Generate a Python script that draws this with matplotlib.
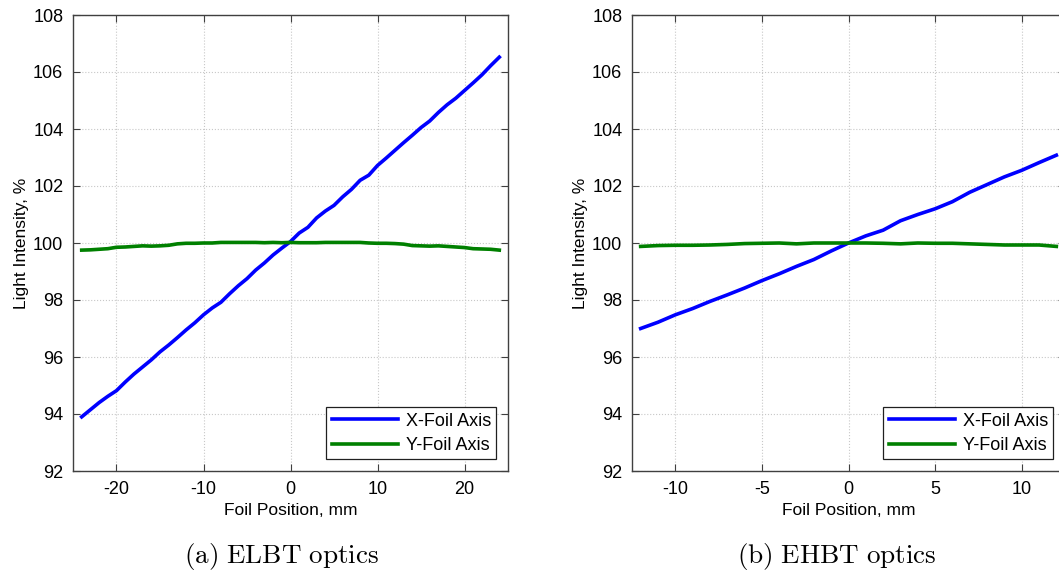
#!/usr/bin/env python3
# -*- coding: utf-8 -*-

import numpy as np
from matplotlib import pyplot as plt

plt.rcParams['font.family'] = ['Liberation Sans', 'DejaVu Sans']
plt.rcParams['mathtext.fontset'] = 'cm'
plt.rcParams['axes.unicode_minus'] = False

# ELBT optics, foil position in mm
elbt_pos = list(range(-24, 25))
elbt_x = [93.90, 94.15, 94.40, 94.62, 94.82, 95.12, 95.40, 95.65, 95.90, 96.18,
          96.42, 96.68, 96.95, 97.20, 97.48, 97.72, 97.92, 98.22, 98.50, 98.75,
          99.05, 99.30, 99.58, 99.82, 100.05, 100.35, 100.55, 100.88, 101.12, 101.32,
          101.62, 101.88, 102.20, 102.38, 102.72, 102.98, 103.25, 103.52, 103.78, 104.05,
          104.28, 104.58, 104.85, 105.08, 105.35, 105.62, 105.90, 106.22, 106.52]
elbt_y = [99.75, 99.76, 99.78, 99.80, 99.85, 99.86, 99.88, 99.90, 99.89, 99.90,
          99.92, 99.97, 99.99, 99.99, 100.00, 100.00, 100.02, 100.02, 100.02, 100.02,
          100.02, 100.01, 100.02, 100.01, 100.02, 100.01, 100.01, 100.01, 100.02, 100.02,
          100.02, 100.02, 100.02, 100.00, 99.99, 99.99, 99.98, 99.96, 99.91, 99.90,
          99.89, 99.90, 99.88, 99.86, 99.84, 99.80, 99.79, 99.78, 99.75]

# EHBT optics
ehbt_pos = list(range(-12, 13))
ehbt_x = [97.00, 97.22, 97.48, 97.70, 97.95, 98.18, 98.42, 98.68, 98.92, 99.18,
          99.42, 99.72, 100.00, 100.25, 100.45, 100.78, 101.00, 101.20, 101.45, 101.78,
          102.05, 102.32, 102.55, 102.82, 103.08]
ehbt_y = [99.88, 99.91, 99.92, 99.92, 99.93, 99.95, 99.98, 99.99, 100.00, 99.97,
          100.00, 100.00, 100.00, 100.00, 99.99, 99.97, 100.00, 99.99, 99.99, 99.97,
          99.95, 99.93, 99.93, 99.93, 99.88]

xticks_a = [-20, -10, 0, 10, 20]
xticks_b = [-10, -5, 0, 5, 10]
yticks = [92, 94, 96, 98, 100, 102, 104, 106, 108]


def style_axes(ax, xlim, xticks):
    ax.set_xlim(xlim)
    ax.set_ylim(92, 108)
    ax.set_xticks(xticks)
    ax.set_yticks(yticks)
    ax.grid(True, linestyle=':', color='#c8c8c8', linewidth=0.8)
    ax.tick_params(direction='in', top=True, right=True, labelsize=13,
                   length=5, color='#404040', pad=7)
    for s in ax.spines.values():
        s.set_color('#404040')
        s.set_linewidth(1.0)
    ax.set_xlabel("Foil Position, mm", fontsize=12.5, labelpad=4)
    ax.set_ylabel("Light Intensity, %", fontsize=12.5, labelpad=3)
    leg = ax.legend(loc='lower right', fontsize=13, fancybox=False, framealpha=1,
                    edgecolor='#202020', handlelength=3.7, borderpad=0.3,
                    labelspacing=0.4, handletextpad=0.4, borderaxespad=0.65)
    leg.get_frame().set_linewidth(0.9)


def main():
    fig = plt.figure(figsize=(10.59, 5.74), dpi=100)
    ax1 = fig.add_axes([73 / 1059, 103 / 574, 435 / 1059, 456 / 574])
    ax2 = fig.add_axes([632 / 1059, 103 / 574, 433 / 1059, 456 / 574])

    ax1.plot(elbt_pos, elbt_x, color='#0000ff', lw=2.6, label='X-Foil Axis')
    ax1.plot(elbt_pos, elbt_y, color='#008000', lw=2.6, label='Y-Foil Axis')
    style_axes(ax1, (-25, 25), xticks_a)

    ax2.plot(ehbt_pos, ehbt_x, color='#0000ff', lw=2.6, label='X-Foil Axis')
    ax2.plot(ehbt_pos, ehbt_y, color='#008000', lw=2.6, label='Y-Foil Axis')
    style_axes(ax2, (-12.5, 12.5), xticks_b)

    fig.text(281 / 1059, 1 - 557 / 574, r'$\mathrm{(a)\ ELBT\ optics}$',
             fontsize=19.5, ha='center', va='center')
    fig.text(837 / 1059, 1 - 557 / 574, r'$\mathrm{(b)\ EHBT\ optics}$',
             fontsize=19.5, ha='center', va='center')

    fig.savefig('out.png', dpi=100)


if __name__ == "__main__":
    main()
